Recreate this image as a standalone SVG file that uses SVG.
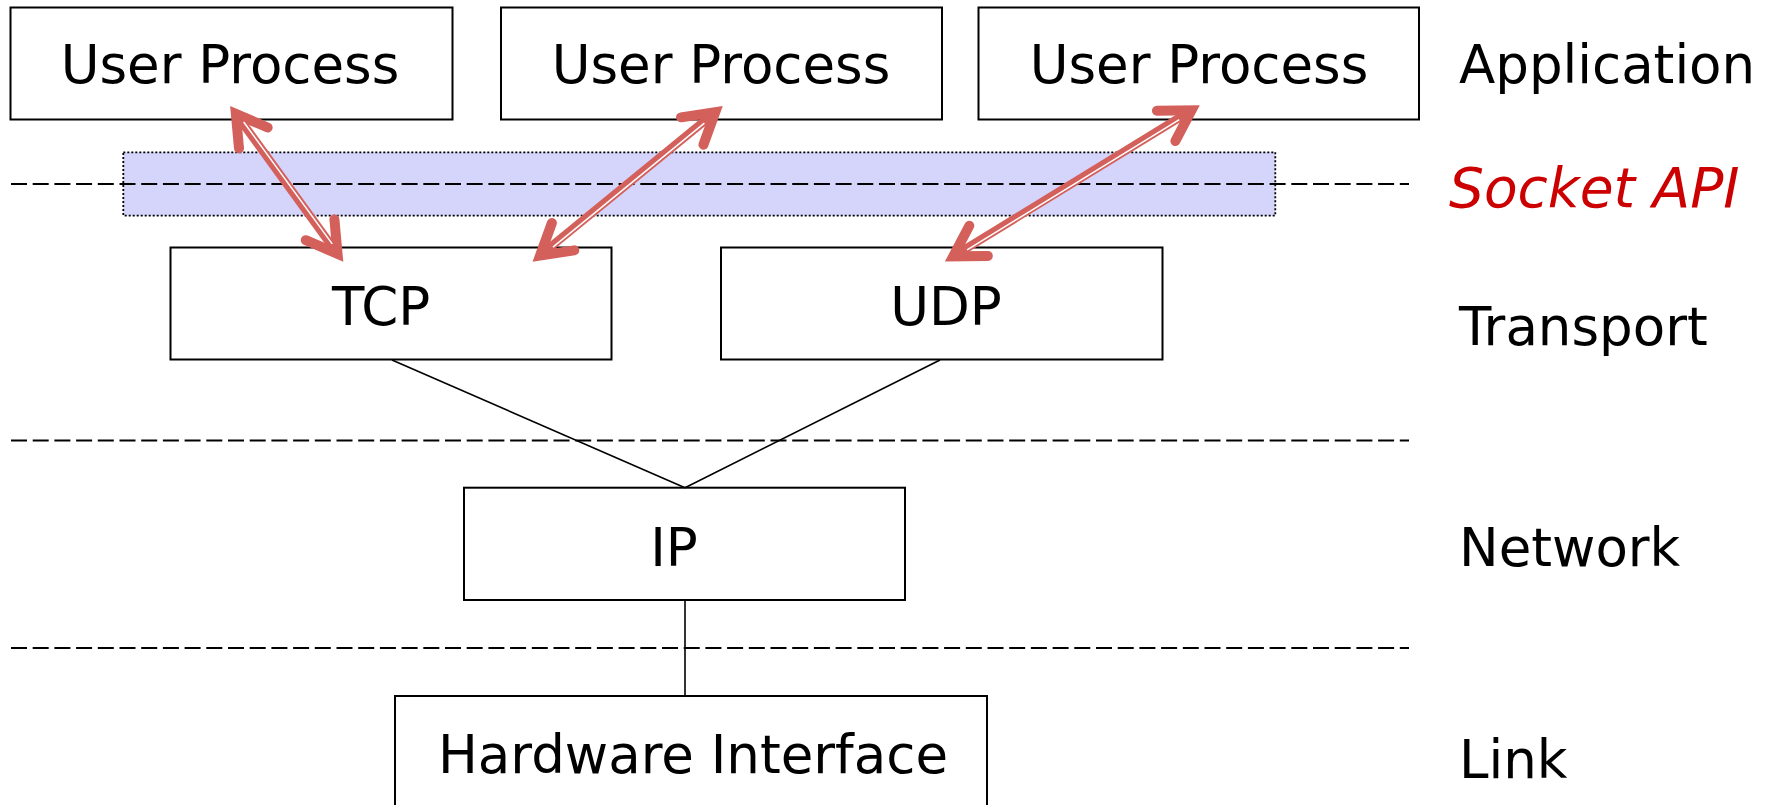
<svg xmlns="http://www.w3.org/2000/svg" width="1768" height="805" viewBox="0 0 1768 805">
  <style>
    .box { fill: #ffffff; stroke: #000000; stroke-width: 2; }
    .txt { font-family: "DejaVu Sans", Verdana, sans-serif; font-size: 53px; fill: #000000; }
    .mid { text-anchor: middle; }
    .layer { font-family: "DejaVu Sans", Verdana, sans-serif; font-size: 53px; fill: #000000; }
    .api { font-family: "DejaVu Sans", Verdana, sans-serif; font-size: 55px; font-style: italic; fill: #cc0000; }
    .dash { stroke: #000000; stroke-width: 2; stroke-dasharray: 16 5.7; fill: none; }
    .link { stroke: #000000; stroke-width: 1.6; fill: none; }
    .shaft { stroke: #d4605b; stroke-width: 8.5; fill: none; marker-start: url(#head); marker-end: url(#head); }
    .shine { stroke: #ffffff; stroke-width: 1.5; fill: none; }
  </style>
  <defs>
    <marker id="head" markerUnits="userSpaceOnUse" orient="auto-start-reverse" viewBox="-50 -30 70 60" markerWidth="70" markerHeight="60" refX="0" refY="0" overflow="visible">
      <path d="M -31.5 -17.7 L -1.8 0 L -31.5 17.7" fill="none" stroke="#d4605b" stroke-width="10" stroke-linecap="round" stroke-linejoin="miter"/>
    </marker>
  </defs>

  <rect width="1768" height="805" fill="#ffffff"/>

  <g id="socket-band">
    <rect x="123.3" y="152.3" width="1152" height="63.4" fill="#d5d5fc" stroke="#000000" stroke-width="1.8" stroke-dasharray="2 2"/>
  </g>

  <g id="layer-lines">
    <line class="dash" x1="11" y1="184" x2="1409" y2="184"/>
    <line class="dash" x1="11" y1="440.5" x2="1409" y2="440.5"/>
    <line class="dash" x1="11" y1="648" x2="1409" y2="648"/>
  </g>

  <g id="user-process-1">
    <rect class="box" x="10.5" y="7.5" width="442" height="112"/>
    <text class="txt mid" x="230" y="83">User Process</text>
  </g>
  <g id="user-process-2">
    <rect class="box" x="501" y="7.5" width="441" height="112"/>
    <text class="txt mid" x="721" y="83">User Process</text>
  </g>
  <g id="user-process-3">
    <rect class="box" x="978.5" y="7.5" width="440.5" height="112"/>
    <text class="txt mid" x="1199" y="83">User Process</text>
  </g>
  <g id="tcp">
    <rect class="box" x="170.5" y="247.5" width="441" height="112"/>
    <text class="txt mid" x="381" y="325">TCP</text>
  </g>
  <g id="udp">
    <rect class="box" x="721" y="247.5" width="441.5" height="112"/>
    <text class="txt mid" x="946" y="325">UDP</text>
  </g>
  <g id="ip">
    <rect class="box" x="464" y="487.7" width="441" height="112.3"/>
    <text class="txt mid" x="674" y="566">IP</text>
  </g>
  <g id="hardware-interface">
    <rect class="box" x="395" y="696" width="592" height="112"/>
    <text class="txt mid" x="693" y="773">Hardware Interface</text>
  </g>

  <g id="connectors">
    <line class="link" x1="392" y1="360" x2="685" y2="487.7"/>
    <line class="link" x1="940" y1="360" x2="685" y2="487.7"/>
    <line class="link" x1="685" y1="600" x2="685" y2="696"/>

    <line class="shaft" x1="338.6" y1="255.3" x2="234.8" y2="112.4"/>
    <line class="shine" x1="332.2" y1="243.9" x2="243.7" y2="122.0"/>

    <line class="shaft" x1="538.7" y1="256.6" x2="716.6" y2="111.1"/>
    <line class="shine" x1="552.9" y1="247.1" x2="704.4" y2="123.2"/>

    <line class="shaft" x1="951.7" y1="257.3" x2="1193.0" y2="109.4"/>
    <line class="shine" x1="967.1" y1="249.9" x2="1179.3" y2="119.6"/>
  </g>

  <g id="layer-labels">
    <text class="layer" x="1459" y="83">Application</text>
    <text class="api" x="1449" y="207">Socket API</text>
    <text class="layer" x="1459" y="345">Transport</text>
    <text class="layer" x="1459" y="566">Network</text>
    <text class="layer" x="1459" y="778">Link</text>
  </g>
</svg>
